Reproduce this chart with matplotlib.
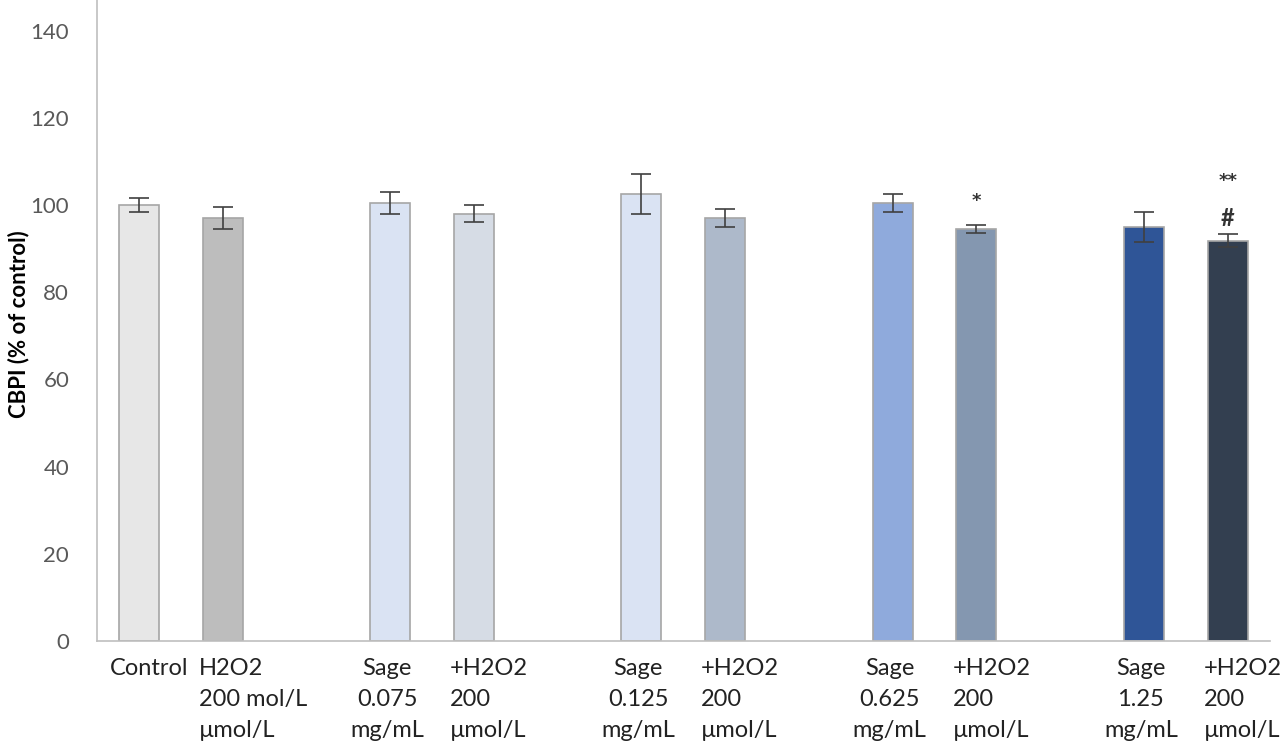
import matplotlib

matplotlib.use("Agg")
import matplotlib.pyplot as plt
import matplotlib.transforms as mtransforms

# slot index of each bar (groups of two with an empty slot between)
slots = [0, 1, 3, 4, 6, 7, 9, 10, 12, 13]
labels = [
    "Control",
    "H2O2\n200 mol/L\nµmol/L",
    "Sage\n0.075\nmg/mL",
    "+H2O2\n200\nµmol/L",
    "Sage\n0.125\nmg/mL",
    "+H2O2\n200\nµmol/L",
    "Sage\n0.625\nmg/mL",
    "+H2O2\n200\nµmol/L",
    "Sage\n1.25\nmg/mL",
    "+H2O2\n200\nµmol/L",
]
values = [100.0, 97.0, 100.5, 98.0, 102.5, 97.0, 100.5, 94.5, 95.0, 91.8]
errors = [1.5, 2.5, 2.5, 2.0, 4.5, 2.0, 2.0, 1.0, 3.5, 1.5]
colors = ["#e7e7e7", "#bdbdbd", "#dae3f3", "#d6dce5", "#dae3f3",
          "#adb9ca", "#8faadc", "#8497b0", "#2f5597", "#333f50"]
# significance marks: (slot, y, text, size)
marks = [(10, 101.0, "*", 13), (13, 105.5, "**", 13), (13, 97.0, "#", 17)]

plt.rcParams["font.family"] = ["Lato", "DejaVu Sans"]

fig = plt.figure(figsize=(12.8, 7.49), dpi=100)
ax = fig.add_axes([0.0758, 0.144, 0.916, 0.856])

ax.bar(slots, values, width=0.48, color=colors, edgecolor="#a6a6a6", linewidth=1.2, zorder=2)
ax.errorbar(slots, values, yerr=errors, fmt="none", ecolor="#404040",
            elinewidth=1.2, capsize=7, capthick=1.2, zorder=3)

for slot, y, txt, size in marks:
    fam = "DejaVu Sans" if txt.startswith("*") else "Lato"
    ax.text(slot, y, txt, ha="center", va="center", fontsize=size,
            color="#333333", family=fam, fontweight="bold")

ax.set_xlim(-0.5, 13.5)
ax.set_ylim(0, 147)
ax.set_yticks(range(0, 141, 20))
ax.tick_params(axis="y", length=0, labelsize=16, labelcolor="#595959", pad=20)
ax.tick_params(axis="x", length=0, pad=12)
ax.set_xticks(slots)
ax.set_xticklabels(labels, fontsize=17, color="#222222", linespacing=1.6)
for i, lab in enumerate(ax.get_xticklabels()):
    if labels[i].startswith("Sage"):
        lab.set_multialignment("center")
        dx = -3
    elif labels[i] == "Control":
        dx = 10
    else:
        lab.set_horizontalalignment("left")
        lab.set_multialignment("left")
        dx = -24
    lab.set_transform(lab.get_transform()
                      + mtransforms.ScaledTranslation(dx / 100, 0, fig.dpi_scale_trans))

for side in ("top", "right"):
    ax.spines[side].set_visible(False)
for side in ("left", "bottom"):
    ax.spines[side].set_color("#bfbfbf")
    ax.spines[side].set_linewidth(1.2)

ax.set_ylabel("CBPI (% of control)", fontsize=16, fontweight="bold")
ax.yaxis.set_label_coords(-0.058, 0.495)

fig.savefig("out.png", dpi=100)
